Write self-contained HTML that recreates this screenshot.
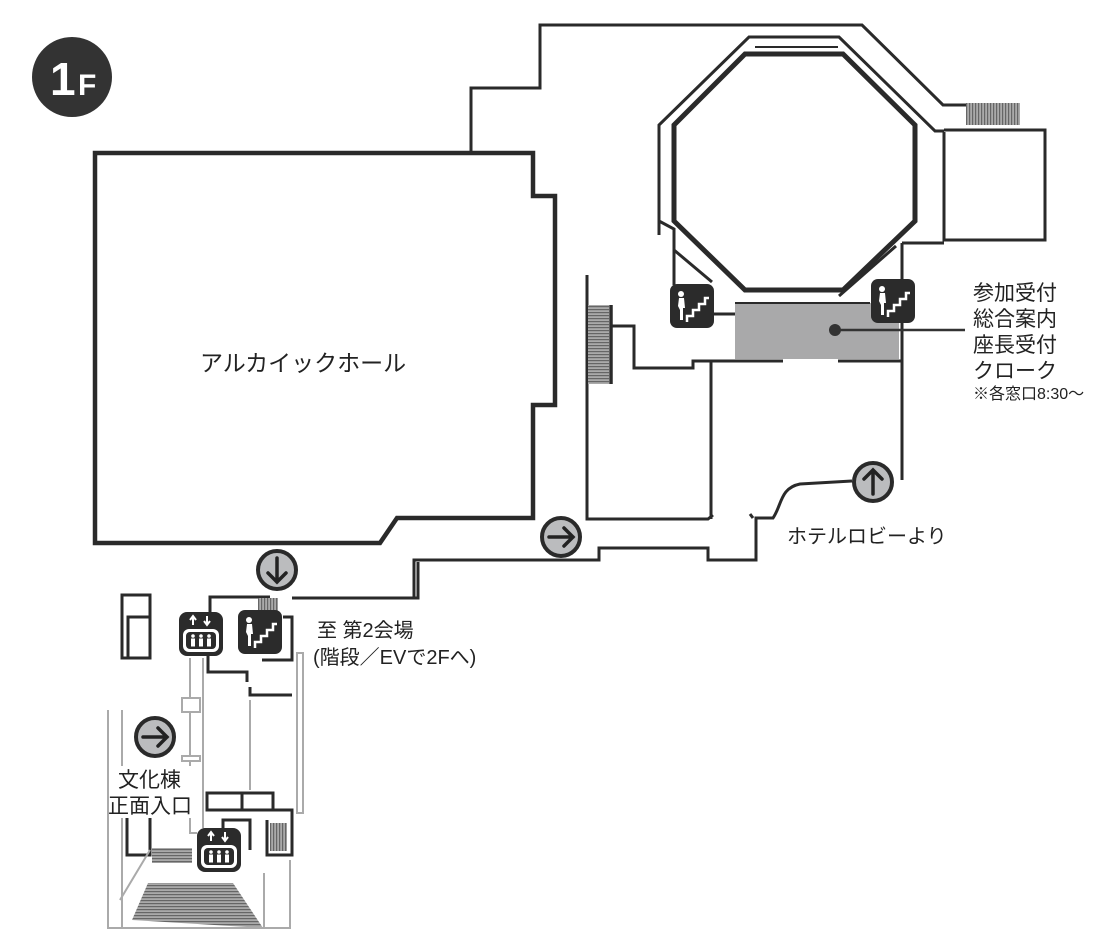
<!DOCTYPE html>
<html><head><meta charset="utf-8"><style>
html,body{margin:0;padding:0;background:#fff;}
svg{display:block;}
text{font-family:"Liberation Sans","Noto Sans CJK JP",sans-serif;fill:#222;}
</style></head><body>
<svg width="1110" height="933" viewBox="0 0 1110 933" xmlns="http://www.w3.org/2000/svg">
<defs>
<pattern id="hatch" width="3" height="3" patternUnits="userSpaceOnUse"><rect width="3" height="3" fill="#aaa"/><rect width="3" height="1.2" fill="#666"/></pattern>
<pattern id="vhatch" width="3" height="3" patternUnits="userSpaceOnUse"><rect width="3" height="3" fill="#aaa"/><rect width="1.2" height="3" fill="#666"/></pattern>
<g id="stair"><rect x="0" y="0" width="44" height="44" rx="7" fill="#2b2b2b"/>
<path d="M17 38 L17 32 L23 32 L23 26 L29 26 L29 20 L35 20 L35 14 L39 14" stroke="#fff" stroke-width="2.5" fill="none"/>
<circle cx="11" cy="10" r="3" fill="#fff"/><path d="M9 14 L14 14 L15 24 L13 24 L13 36 L10 36 L10 26 L8 22 Z" fill="#fff"/></g>
<g id="ev"><rect x="0" y="0" width="44" height="44" rx="8" fill="#2b2b2b"/>
<rect x="4" y="17" width="36" height="23" rx="6" fill="#fff"/><rect x="7" y="20" width="30" height="17" rx="4" fill="#2b2b2b"/>
<path d="M14 13 L14 5 M11 8 L14 4 L17 8 M28 4 L28 12 M25 9 L28 13 L31 9" stroke="#fff" stroke-width="2" fill="none"/>
<g fill="#fff"><circle cx="14" cy="24" r="1.8"/><rect x="12" y="26.5" width="4" height="8"/><circle cx="22" cy="24" r="1.8"/><rect x="20" y="26.5" width="4" height="8"/><circle cx="30" cy="24" r="1.8"/><rect x="28" y="26.5" width="4" height="8"/></g></g>
</defs>

<!-- 1F badge -->
<circle cx="72" cy="77" r="40" fill="#333"/>
<text x="50" y="95" font-size="46" font-weight="bold" style="fill:#fff">1</text>
<text x="78" y="95" font-size="30" font-weight="bold" style="fill:#fff">F</text>

<g fill="none" stroke="#2a2a2a" stroke-linejoin="miter">
<path d="M95 153 L533 153 L533 196 L555 196 L555 405 L533 405 L533 518 L397 518 L380 543 L95 543 Z" stroke-width="4.5"/>
<path d="M471 153 L471 88 L540 88 L540 25 L862 25 L943 105 L1020 105" stroke-width="3"/>
<rect x="966" y="103" width="54" height="22" fill="url(#vhatch)" stroke="none"/>
<path d="M944 132 L944 240 L1045 240 L1045 130 L944 130" stroke-width="3"/>
<path d="M659 235 L659 125 L749 37 L839 37 L935 131 L944 131" stroke-width="3"/>
<path d="M659 221 L674 229 L674 285" stroke-width="3"/>
<path d="M902 243 L944 243 M902 243 L902 480" stroke-width="3"/>
<path d="M674 125 L745 54 L843 54 L915 125 L915 221 L843 290 L745 290 L674 221 Z" stroke-width="5"/>
<path d="M755 47 L838 47" stroke-width="2"/>
<path d="M674 250 L712 282" stroke-width="3"/>
<path d="M896 246 L839 296" stroke-width="3"/>
<path d="M712 314 L735 314" stroke-width="3"/>
</g>
<rect x="735" y="303" width="164" height="56" fill="#a9a9aa"/>
<path d="M735 303 L870 303" stroke="#2a2a2a" stroke-width="2"/>
<circle cx="835" cy="330" r="6" fill="#333"/>
<path d="M835 330 L965 330" stroke="#333" stroke-width="2.5"/>
<g fill="none" stroke="#2a2a2a" stroke-width="3">
<path d="M735 361 L693 361 L693 368 L634 368 L634 326 L611 326"/>
<path d="M711 361 L783 361 M838 361 L902 361"/>
<path d="M711 361 L711 519"/>
<path d="M587 275 L587 519 L708 519 L713 515"/>
<path d="M611 305 L611 384" stroke-width="3.5"/>
<path d="M414 597 L414 560 L599 560 L599 548 L708 548 L708 560 L756 560 L756 518 L773 518 C782 505 780 488 800 484 L852 481"/>
<path d="M753 518 L750 514"/>
<path d="M292 598 L418 598 L418 562"/>
<path d="M210 617 L210 597 L270 597"/>
<path d="M283 617 L292 617 L292 660 L262 660"/>
<path d="M208 655 L208 672 L247 672 L247 682"/>
<path d="M250 687 L250 695 L292 695"/>
<path d="M122 658 L122 595 L150 595 L150 658 Z M128 658 L128 617 L150 617"/>
<rect x="207" y="793" width="66" height="17"/>
<path d="M242 793 L242 810"/>
<path d="M207 810 L292 810 L292 855 L267 855 L267 820"/>
<path d="M127 817 L127 855 L150 855 L150 817"/>
<path d="M223 850 L223 820 L250 820 L250 850"/>
</g>
<rect x="588" y="305" width="21" height="79" fill="url(#hatch)"/>
<rect x="258" y="598" width="20" height="14" fill="url(#vhatch)"/>
<rect x="270" y="823" width="17" height="28" fill="url(#vhatch)"/>
<rect x="152" y="848" width="40" height="15" fill="url(#hatch)"/>
<path d="M132 920 L148 883 L233 883 L263 928 Z" fill="url(#hatch)"/>
<g fill="none" stroke="#aaa" stroke-width="2">
<path d="M190 658 L190 833 L197 833 M203 658 L203 828"/>
<rect x="182" y="698" width="18" height="14" fill="#fff"/>
<rect x="182" y="756" width="18" height="5" fill="#fff"/>
<path d="M297 653 L303 653 L303 813 L297 813 Z"/>
<path d="M108 710 L108 928 L290 928 L290 860 M122 710 L122 928"/>
<path d="M250 700 L250 790 M120 900 L150 850"/>
<path d="M264 873 L264 928"/>
</g>
<use href="#stair" x="670" y="284"/>
<use href="#stair" x="871" y="279"/>
<use href="#stair" x="238" y="610"/>
<use href="#ev" x="179" y="612"/>
<use href="#ev" x="197" y="828"/>
<g stroke="#2a2a2a" stroke-width="4" fill="#bbbcbe">
<circle cx="277" cy="570" r="19"/>
<circle cx="561" cy="537" r="19"/>
<circle cx="873" cy="482" r="19"/>
<circle cx="155" cy="737" r="19"/>
</g>
<g stroke="#222" stroke-width="3.5" fill="none" stroke-linecap="round">
<path d="M277 558 L277 582 M268 573 L277 582 L286 573"/>
<path d="M549 537 L573 537 M564 528 L573 537 L564 546"/>
<path d="M873 494 L873 470 M864 479 L873 470 L882 479"/>
<path d="M143 737 L167 737 M158 728 L167 737 L158 746"/>
</g>
<text x="200" y="371" font-size="23">アルカイックホール</text>
<text x="973" y="300" font-size="21">参加受付</text>
<text x="973" y="326" font-size="21">総合案内</text>
<text x="973" y="352" font-size="21">座長受付</text>
<text x="973" y="378" font-size="21">クローク</text>
<text x="973" y="399" font-size="16">※各窓口8:30〜</text>
<text x="787" y="543" font-size="20">ホテルロビーより</text>
<text x="317" y="637" font-size="20">至 第2会場</text>
<text x="313" y="664" font-size="20">(階段／EVで2Fへ)</text>
<rect x="110" y="766" width="86" height="52" fill="#fff"/>
<text x="118" y="787" font-size="21">文化棟</text>
<text x="108" y="813" font-size="21">正面入口</text>
</svg>
</body></html>
